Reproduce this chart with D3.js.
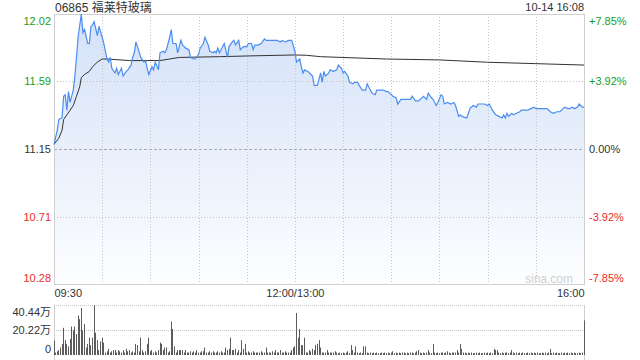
<!DOCTYPE html>
<html>
<head>
<meta charset="utf-8">
<script src="https://cdn.jsdelivr.net/npm/d3@7"></script>
<style>
  body { margin: 0; background: #fff; }
  svg text { font-family: "Liberation Sans", Arial, "Noto Sans CJK SC", sans-serif; }
</style>
</head>
<body>
<svg width="640" height="360"></svg>
<script>
const title = '06865 福莱特玻璃';
const stamp = '10-14 16:08';

const priceTicks = [12.02, 11.59, 11.15, 10.71, 10.28];
const pctTicks = ['+7.85%', '+3.92%', '0.00%', '-3.92%', '-7.85%'];
const timeTicks = [0, 150, 330];
const timeLabels = ['09:30', '12:00/13:00', '16:00'];
const volTicks = [40.44, 20.22, 0];
const volLabels = ['40.44万', '20.22万', '0'];

// minutes since 09:30 (lunch break removed) and last price
const priceMinutes = [0,2,3,5,6,7,8,9,10,12,13,14,15,17,18,19,21,22,23,24,25,27,28,30,31,33,34,35,36,38,39,40,42,43,45,46,48,49,50,51,52,54,56,57,58,59,61,62,63,65,66,68,69,70,72,73,74,76,77,79,80,82,84,85,87,88,90,91,93,94,96,97,99,100,101,102,103,105,106,108,109,111,112,113,115,116,118,120,121,123,124,125,127,129,131,132,134,137,139,141,142,144,146,148,150,151,153,154,155,156,158,159,161,162,164,166,167,168,169,171,172,174,176,177,179,180,181,183,184,186,187,189,190,192,194,195,197,198,200,201,203,205,207,208,210,211,213,214,216,217,220,222,223,225,227,228,230,232,233,235,236,238,239,241,242,243,245,247,249,250,252,253,254,257,258,259,261,263,264,266,268,270,271,273,275,277,279,280,281,282,283,285,286,288,290,291,293,295,297,299,300,303,305,307,309,311,313,315,317,318,320,321,323,324,326,327,329,330];
const prices = [11.18,11.27,11.34,11.35,11.49,11.50,11.40,11.52,11.45,11.53,11.62,11.74,11.87,12.02,11.90,11.92,11.83,11.83,11.94,11.95,11.97,11.88,11.94,11.87,11.83,11.73,11.71,11.74,11.67,11.64,11.67,11.63,11.67,11.62,11.65,11.66,11.69,11.74,11.77,11.84,11.81,11.74,11.71,11.72,11.67,11.63,11.68,11.66,11.71,11.66,11.77,11.78,11.77,11.79,11.87,11.92,11.83,11.83,11.77,11.85,11.82,11.80,11.79,11.74,11.73,11.73,11.76,11.80,11.83,11.87,11.82,11.78,11.77,11.78,11.77,11.80,11.77,11.81,11.83,11.74,11.81,11.84,11.85,11.82,11.85,11.79,11.81,11.81,11.83,11.83,11.79,11.82,11.82,11.83,11.86,11.85,11.85,11.85,11.85,11.84,11.85,11.84,11.85,11.85,11.78,11.71,11.73,11.68,11.64,11.66,11.65,11.64,11.62,11.56,11.56,11.64,11.58,11.65,11.62,11.64,11.66,11.65,11.66,11.69,11.67,11.64,11.65,11.62,11.58,11.57,11.58,11.58,11.56,11.53,11.53,11.57,11.53,11.51,11.50,11.53,11.53,11.53,11.52,11.52,11.50,11.49,11.48,11.44,11.47,11.47,11.47,11.47,11.49,11.46,11.46,11.47,11.49,11.47,11.51,11.48,11.47,11.43,11.45,11.50,11.49,11.44,11.45,11.44,11.45,11.43,11.36,11.37,11.36,11.35,11.38,11.41,11.43,11.42,11.44,11.44,11.44,11.43,11.44,11.40,11.37,11.36,11.35,11.37,11.35,11.38,11.36,11.38,11.37,11.38,11.39,11.40,11.40,11.40,11.41,11.42,11.41,11.41,11.41,11.41,11.39,11.38,11.39,11.39,11.41,11.42,11.41,11.41,11.42,11.41,11.42,11.44,11.42,11.42];

// average price line
const avgMinutes = [0,3,5,6,8,10,12,14,16,17,19,22,24,27,30,33,47,66,72,78,103,122,150,157,166,207,240,270,300,330];
const avgPrices = [11.18,11.22,11.27,11.34,11.37,11.40,11.43,11.49,11.55,11.61,11.63,11.65,11.68,11.71,11.73,11.73,11.72,11.72,11.73,11.74,11.745,11.75,11.756,11.754,11.745,11.73,11.724,11.709,11.70,11.691];

// volume per minute, in 万
const volumes = [
  11.7,2,3,4,6,9,22,12,9,7,
  13,23,20,23,17,32,29,38,20,25,
  6,9,14,8,14,40.4,18,12,4,11,
  14,10,2,3,5,2,3,4,4,2,
  4,3,2,4,2,5,3,4,2,3,
  2,9,8,3,14,4,2,3,9,14,
  3,4,2,3,2,4,10,9,4,6,
  6,2,3,27,21,7,2,4,4,4,
  4,2,4,2,2,3,2,3,2,4,
  2,2,3,3,6,2,2,3,2,3,
  2,2,3,2,3,2,2,6,4,5,
  14,4,4,5,2,4,2,12,5,9,
  2,3,2,2,3,2,2,2,2,3,
  2,2,6,2,2,2,3,2,4,2,
  2,4,2,2,3,2,2,2,4,6,
  7,34,14,21,8,8,14,2,2,4,
  3,5,4,8,9,12,6,2,2,2,
  4,2,2,2,2,3,2,1.5,2,1.5,
  2,1.5,2,3,1.5,8,4,2,7,2,
  1.5,2,1.5,7,7,2,1.5,2,1.5,2,
  1.5,2,1.5,1.5,2,1.5,2,1.5,2,1.5,
  2,3,1.5,2,1.5,2,1.5,2,2,1.5,
  2,1.5,2,2,1.5,2,3,4,2,1.5,
  2,1.5,2,4,2,1.5,9,2,1.5,2,
  1.5,2,2,1.5,2,3,2,1.5,2,2,
  2,4,2,9,5,2,2,1.5,2,1.5,
  2,1.5,1.5,2,1.5,2,1.5,1.5,2,1.5,
  2,1.5,2,1.5,5,4,4,2,1.5,2,
  1.5,2,2,1.5,2,4,2,1.5,2,1.5,
  2,1.5,2,1.5,1.5,2,1.5,2,1.5,2,
  1.5,2,1.5,1.5,2,1.5,2,1.5,2,5,
  1.5,2,1.5,2,1.5,1.5,2,1.5,2,1.5,
  2,1.5,2,1.5,2,1.5,1.5,2,1.5,2,
  28
];

const green = '#1a9e1a', red = '#ee2a2a', ink = '#333';
const tickColor = [green, green, ink, red, red];

const svg = d3.select('svg');
const plotL = 54, plotR = 584, plotT = 14, plotB = 284;
const volT = 305, volB = 355;

const x = d3.scaleLinear().domain([0, 330]).range([plotL, plotR]);
const y = d3.scaleLinear().domain([10.28, 12.02]).range([plotB, plotT]);
const yv = d3.scaleLinear().domain([0, 40.44]).range([volB, volT]);

const grad = svg.append('defs').append('linearGradient')
    .attr('id', 'fill')
    .attr('gradientUnits', 'userSpaceOnUse')
    .attr('x1', 0).attr('y1', plotT).attr('x2', 0).attr('y2', plotB);
grad.append('stop').attr('offset', 0).attr('stop-color', '#d3e1f8');
grad.append('stop').attr('offset', 1).attr('stop-color', '#fdfeff');

// ---------------- price area + grid ----------------

const pts = priceMinutes.map((m, i) => [m, prices[i]]);

svg.append('path')
    .datum(pts)
    .attr('fill', 'url(#fill)')
    .attr('d', d3.area().x(d => x(d[0])).y0(plotB).y1(d => y(d[1])));

svg.append('g')
    .selectAll('line')
    .data(d3.range(30, 330, 30))
    .join('line')
    .attr('x1', d => Math.round(x(d)) + 0.5).attr('x2', d => Math.round(x(d)) + 0.5)
    .attr('y1', plotT).attr('y2', plotB)
    .attr('stroke', '#c4c4c4').attr('stroke-dasharray', '1,2');

svg.append('g')
    .selectAll('line')
    .data(priceTicks.slice(1, 4))
    .join('line')
    .attr('x1', plotL).attr('x2', plotR)
    .attr('y1', d => Math.round(y(d)) + 0.5).attr('y2', d => Math.round(y(d)) + 0.5)
    .attr('stroke', d => d === 11.15 ? '#aaa' : '#c4c4c4')
    .attr('stroke-dasharray', d => d === 11.15 ? '3,2' : '1,2');

svg.append('rect')
    .attr('x', plotL + 0.5).attr('y', plotT + 0.5)
    .attr('width', plotR - plotL).attr('height', plotB - plotT)
    .attr('fill', 'none').attr('stroke', '#cfcfcf');

svg.append('text')
    .attr('x', 573).attr('y', 283)
    .attr('text-anchor', 'end')
    .attr('font-size', 12).attr('fill', '#d0d0d0')
    .text('sina.com');

svg.append('path')
    .datum(avgMinutes.map((m, i) => [m, avgPrices[i]]))
    .attr('fill', 'none').attr('stroke', '#333').attr('stroke-width', 1)
    .attr('d', d3.line().x(d => x(d[0])).y(d => y(d[1])));

svg.append('path')
    .datum(pts)
    .attr('fill', 'none').attr('stroke', '#4a8def').attr('stroke-width', 1.2)
    .attr('d', d3.line().x(d => x(d[0])).y(d => y(d[1])));

// ---------------- axes labels ----------------

const yl = svg.append('g')
    .attr('transform', `translate(${plotL},0)`)
    .call(d3.axisLeft(y).tickValues(priceTicks).tickSize(0).tickPadding(3).tickFormat(d3.format('.2f')));
yl.select('.domain').remove();

const yr = svg.append('g')
    .attr('transform', `translate(${plotR},0)`)
    .call(d3.axisRight(y).tickValues(priceTicks).tickSize(0).tickPadding(5).tickFormat((d, i) => pctTicks[i]));
yr.select('.domain').remove();

[yl, yr].forEach(g => {
    g.selectAll('text')
        .attr('font-size', 11)
        .attr('font-family', null)
        .attr('fill', (d, i) => tickColor[i])
        .attr('dy', (d, i) => i === 0 ? '0.95em' : i === 4 ? '-0.25em' : '0.32em');
});

const xa = svg.append('g')
    .attr('transform', `translate(0,${plotB})`)
    .call(d3.axisBottom(x).tickValues(timeTicks).tickSize(0).tickPadding(5).tickFormat((d, i) => timeLabels[i]));
xa.select('.domain').remove();
xa.selectAll('text')
    .attr('font-size', 11).attr('font-family', null).attr('fill', ink)
    .attr('text-anchor', (d, i) => ['start', 'middle', 'end'][i]);

svg.append('text')
    .attr('x', plotL + 1).attr('y', 12)
    .attr('font-size', 12).attr('fill', ink)
    .text(title);

svg.append('text')
    .attr('x', plotR).attr('y', 11)
    .attr('text-anchor', 'end')
    .attr('font-size', 11).attr('fill', ink)
    .text(stamp);

// ---------------- volume ----------------

svg.append('g')
    .selectAll('line')
    .data(volTicks.slice(0, 2))
    .join('line')
    .attr('x1', plotL).attr('x2', plotR)
    .attr('y1', d => Math.round(yv(d)) + 0.5).attr('y2', d => Math.round(yv(d)) + 0.5)
    .attr('stroke', '#c4c4c4').attr('stroke-dasharray', '1,1');

svg.append('g')
    .selectAll('line')
    .data([plotL, plotR])
    .join('line')
    .attr('x1', d => d + 0.5).attr('x2', d => d + 0.5)
    .attr('y1', volT).attr('y2', volB + 5)
    .attr('stroke', '#cfcfcf');

svg.append('g')
    .selectAll('rect')
    .data(volumes)
    .join('rect')
    .attr('x', (d, i) => Math.floor(x(i)))
    .attr('width', 1)
    .attr('y', d => yv(d))
    .attr('height', d => volB - yv(d))
    .attr('fill', '#5c5c5c');

const vl = svg.append('g')
    .attr('transform', `translate(${plotL},0)`)
    .call(d3.axisLeft(yv).tickValues(volTicks).tickSize(0).tickPadding(3).tickFormat((d, i) => volLabels[i]));
vl.select('.domain').remove();
vl.selectAll('text')
    .attr('font-size', 11).attr('font-family', null).attr('fill', ink)
    .attr('dy', (d, i) => i === 0 ? '0.95em' : i === 2 ? '-0.25em' : '0.32em');
</script>
</body>
</html>
